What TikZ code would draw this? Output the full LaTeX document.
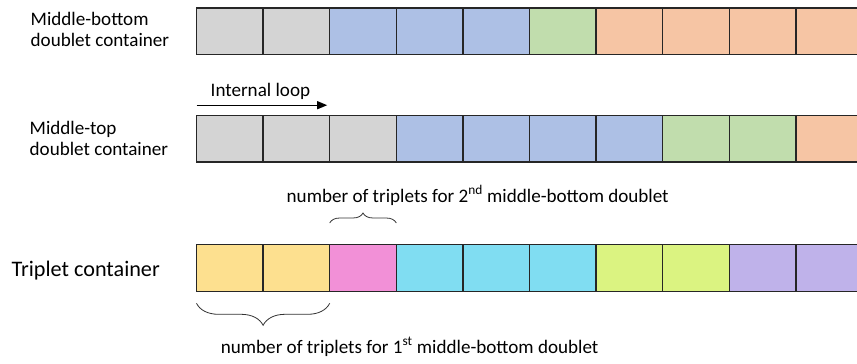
\documentclass[tikz,border=0pt]{standalone}
\usepackage{fontspec}
\setmainfont{Carlito}
\usetikzlibrary{arrows.meta,decorations.pathreplacing}
\definecolor{cgray}{HTML}{D4D4D4}
\definecolor{cblue}{HTML}{ADC0E5}
\definecolor{cgreen}{HTML}{C1DDAD}
\definecolor{corange}{HTML}{F6C5A4}
\definecolor{cyellow}{HTML}{FDE08F}
\definecolor{cpink}{HTML}{F290D7}
\definecolor{ccyan}{HTML}{80DDF2}
\definecolor{clime}{HTML}{DBF381}
\definecolor{cpurple}{HTML}{BFB2EA}
\definecolor{cline}{HTML}{262626}
\begin{document}
\begin{tikzpicture}[x=1pt,y=-1pt,
  cell/.style={draw=cline, line width=1.3pt, minimum width=66.6pt, minimum height=46.8pt,
    inner sep=0pt, outer sep=0pt, anchor=north west},
  lbl/.style={font=\fontsize{19.1}{21}\selectfont, inner sep=0pt, anchor=base west},
  brc/.style={decorate, line width=0.8pt, draw=black!80}]
\useasboundingbox (0,0) rectangle (857,364);
\begin{scope}
\clip (0,0) rectangle (857,364);
\foreach \c [count=\i from 0] in {cgray,cgray,cblue,cblue,cblue,cgreen,corange,corange,corange,corange}
  \node[cell, fill=\c] (r1c\i) at ({196.5+66.6*\i},8.0) {};
\foreach \c [count=\i from 0] in {cgray,cgray,cgray,cblue,cblue,cblue,cblue,cgreen,cgreen,corange}
  \node[cell, fill=\c] (r2c\i) at ({196.5+66.6*\i},115.2) {};
\foreach \c [count=\i from 0] in {cyellow,cyellow,cpink,ccyan,ccyan,ccyan,clime,clime,cpurple,cpurple}
  \node[cell, fill=\c] (r3c\i) at ({196.5+66.6*\i},244.5) {};
\end{scope}
% labels
\node[lbl] (mb1) at (30.5,25.8) {Middle-bottom};
\node[lbl] (mb2) at (30.5,46.8) {doublet container};
\node[lbl] (mt1) at (29.5,134.8) {Middle-top};
\node[lbl] (mt2) at (29.5,155.8) {doublet container};
\node[lbl, font=\fontsize{22.2}{26}\selectfont] (tc) at (11.5,276.7) {Triplet container};
\node[lbl] (il) at (210.5,96.7) {Internal loop};
\node[lbl] (n2) at (286.5,202.5) {number of triplets for 2\textsuperscript{nd} middle-bottom doublet};
\node[lbl] (n1) at (220.7,353.3) {number of triplets for 1\textsuperscript{st} middle-bottom doublet};
% arrow
\coordinate (aS) at ([yshift=10pt]r2c0.north west);
\coordinate (aE) at ([yshift=10pt,xshift=-2.5pt]r2c1.north east);
\draw[draw=black, line width=1.2pt, -{Triangle[length=10pt,width=8pt]}] (aS) -- (aE);
% braces
\draw[brc, decoration={brace, amplitude=10pt}] ([yshift=21.5pt]r3c2.north west) -- ([yshift=21.5pt]r3c2.north east);
\draw[brc, decoration={brace, mirror, amplitude=22pt}] ([yshift=-12pt]r3c0.south west) -- ([yshift=-12pt]r3c1.south east);
\end{tikzpicture}
\end{document}
